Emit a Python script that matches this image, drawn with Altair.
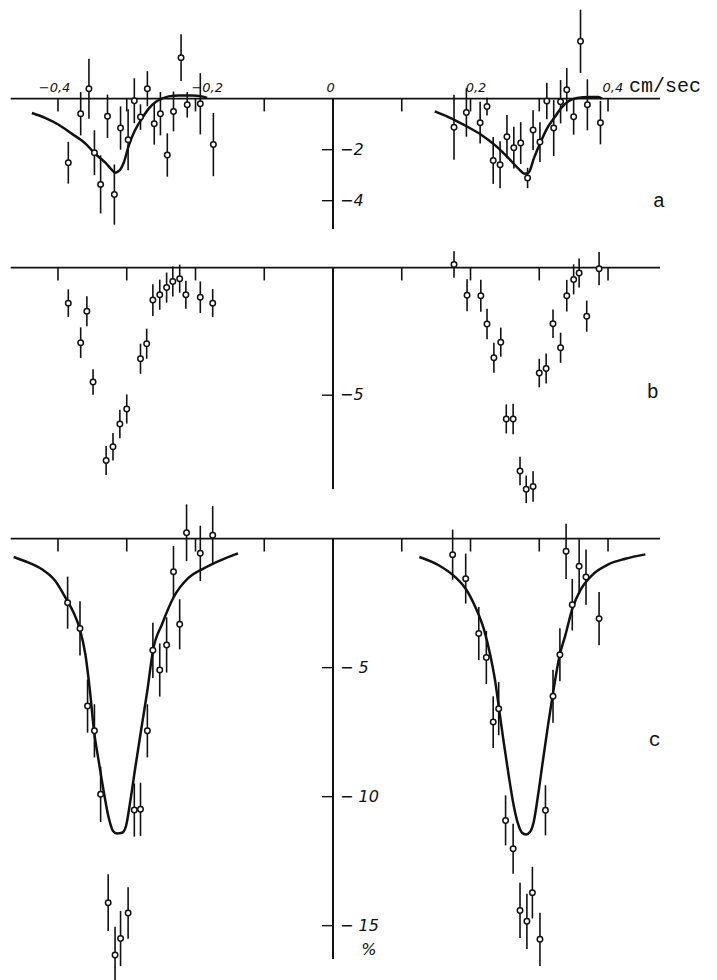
import altair as alt
import pandas as pd

# ---------------- data (cm/sec, %) ----------------
A_L_X = [-0.385, -0.367, -0.355, -0.347, -0.338, -0.328, -0.318, -0.309, -0.298, -0.289,
         -0.280, -0.270, -0.260, -0.251, -0.241, -0.232, -0.221, -0.212, -0.193, -0.174]
A_L_Y = [-2.51, -0.59, 0.39, -2.12, -3.36, -0.69, -3.76, -1.15, -1.61, -0.08,
         -0.72, 0.39, -0.98, -0.59, -2.21, -0.50, 1.61, -0.24, -0.20, -1.80]
A_L_E = [0.82, 0.85, 1.18, 0.88, 1.14, 0.85, 1.18, 0.85, 1.20, 0.88,
         0.50, 0.69, 0.82, 0.85, 0.85, 0.78, 0.92, 0.50, 1.20, 1.24]

A_R_X = [0.176, 0.194, 0.214, 0.224, 0.233, 0.243, 0.253, 0.263, 0.273, 0.283,
         0.291, 0.301, 0.311, 0.321, 0.331, 0.340, 0.350, 0.360, 0.370, 0.389]
A_R_Y = [-1.12, -0.54, -0.94, -0.31, -2.42, -2.59, -1.49, -1.92, -1.74, -3.11,
         -1.23, -1.70, -0.09, -1.15, -0.12, 0.35, -0.71, 2.25, -0.24, -0.94]
A_R_E = [1.27, 0.95, 0.82, 0.35, 0.92, 0.92, 0.85, 0.82, 0.82, 0.40,
         0.78, 0.78, 0.72, 1.10, 0.85, 0.85, 0.70, 1.24, 1.00, 0.85]

B_L_X = [-0.385, -0.367, -0.358, -0.349, -0.330, -0.320, -0.310, -0.300, -0.280,
         -0.271, -0.262, -0.252, -0.242, -0.233, -0.223, -0.214, -0.193, -0.175]
B_L_Y = [-1.39, -2.94, -1.71, -4.48, -7.56, -7.02, -6.13, -5.54, -3.57,
         -2.98, -1.27, -1.06, -0.78, -0.54, -0.43, -1.06, -1.16, -1.39]
B_L_E = [0.54, 0.60, 0.59, 0.50, 0.57, 0.54, 0.56, 0.57, 0.59,
         0.59, 0.62, 0.59, 0.59, 0.59, 0.55, 0.55, 0.62, 0.55]

B_R_X = [0.176, 0.195, 0.215, 0.224, 0.234, 0.244, 0.252, 0.262, 0.272, 0.281,
         0.291, 0.300, 0.310, 0.320, 0.331, 0.340, 0.350, 0.358, 0.369, 0.387]
B_R_Y = [0.12, -1.08, -1.10, -2.21, -3.53, -2.92, -5.93, -5.93, -7.97, -8.69,
         -8.58, -4.13, -3.95, -2.20, -3.14, -1.10, -0.46, -0.21, -1.90, -0.04]
B_R_E = [0.52, 0.63, 0.63, 0.60, 0.59, 0.57, 0.57, 0.60, 0.56, 0.54,
         0.60, 0.56, 0.59, 0.56, 0.59, 0.62, 0.59, 0.57, 0.61, 0.65]

C_L_X = [-0.386, -0.368, -0.357, -0.347, -0.338, -0.327, -0.317, -0.309, -0.298, -0.289,
         -0.280, -0.270, -0.262, -0.252, -0.242, -0.232, -0.223, -0.213, -0.193, -0.175]
C_L_Y = [-2.48, -3.48, -6.49, -7.45, -9.91, -14.11, -16.14, -15.50, -14.51, -10.52,
         -10.49, -7.45, -4.33, -5.09, -4.12, -1.28, -3.32, 0.23, -0.57, 0.13]
C_L_E = [1.01, 1.05, 1.03, 1.03, 1.07, 1.10, 1.10, 1.07, 1.00, 1.03,
         1.03, 1.03, 1.07, 1.03, 1.07, 1.00, 0.97, 1.10, 1.07, 1.13]

C_R_X = [0.174, 0.193, 0.212, 0.223, 0.233, 0.241, 0.251, 0.262, 0.272, 0.282,
         0.290, 0.301, 0.309, 0.320, 0.330, 0.339, 0.348, 0.358, 0.368, 0.387]
C_R_Y = [-0.62, -1.55, -3.68, -4.61, -7.11, -6.59, -10.92, -12.02, -14.41, -14.83,
         -13.72, -15.53, -10.53, -6.11, -4.50, -0.49, -2.56, -1.07, -1.49, -3.10]
C_R_E = [0.97, 0.97, 1.03, 1.03, 1.00, 1.03, 0.97, 0.97, 1.07, 1.07,
         1.00, 1.03, 0.97, 1.03, 1.03, 1.07, 1.00, 1.05, 1.07, 1.03]

# fitted curves
CA_L_X = [-0.438, -0.418, -0.399, -0.380, -0.360, -0.346, -0.331, -0.321, -0.317, -0.312, -0.304,
          -0.297, -0.288, -0.278, -0.268, -0.258, -0.249, -0.239, -0.224, -0.205, -0.191, -0.183]
CA_L_Y = [-0.56, -0.76, -1.02, -1.37, -1.76, -2.16, -2.51, -2.81, -2.90, -2.85, -2.48,
          -1.83, -1.24, -0.78, -0.39, -0.13, 0.0, 0.09, 0.13, 0.13, 0.09, 0.03]
CA_R_X = [0.148, 0.168, 0.192, 0.217, 0.236, 0.256, 0.270, 0.279, 0.285, 0.292,
          0.302, 0.311, 0.321, 0.333, 0.343, 0.355, 0.372, 0.386, 0.391]
CA_R_Y = [-0.50, -0.72, -1.05, -1.44, -1.83, -2.35, -2.75, -2.94, -2.88, -2.35,
          -1.70, -1.18, -0.78, -0.33, -0.09, 0.03, 0.07, 0.07, 0.0]
CC_L_X = [-0.4645, -0.4427, -0.4233, -0.4039, -0.3864, -0.3772, -0.3685, -0.3602, -0.3530,
          -0.3476, -0.3408, -0.3336, -0.3263, -0.3200, -0.3142, -0.3069, -0.3011, -0.2948,
          -0.2876, -0.2778, -0.2701, -0.2618, -0.2487, -0.2322, -0.2099, -0.1905, -0.1663, -0.1382]
CC_L_Y = [-0.71, -0.93, -1.19, -1.64, -2.42, -2.87, -3.48, -4.48, -6.03,
          -7.45, -8.62, -9.78, -10.81, -11.33, -11.43, -11.40, -11.14, -10.17,
          -8.88, -7.20, -5.90, -4.33, -3.32, -2.29, -1.51, -1.19, -0.87, -0.57]
CC_R_X = [0.1256, 0.1537, 0.1779, 0.1935, 0.2070, 0.2192, 0.2288, 0.2361, 0.2415, 0.2482,
          0.2555, 0.2628, 0.2691, 0.2749, 0.2807, 0.2865, 0.2919, 0.2982, 0.3050, 0.3127,
          0.3195, 0.3297, 0.3379, 0.3481, 0.3598, 0.3767, 0.4010, 0.4252, 0.4543]
CC_R_Y = [-0.71, -1.03, -1.49, -1.96, -2.65, -3.49, -4.52, -5.56, -6.59, -7.88,
          -9.17, -10.34, -11.05, -11.40, -11.47, -11.37, -10.98, -9.95, -8.66, -7.24,
          -6.07, -4.52, -3.75, -2.71, -2.00, -1.42, -0.99, -0.78, -0.61]

X_TICKS = [-0.4, -0.3, -0.2, -0.1, 0.1, 0.2, 0.3, 0.4]
X_LABELS = ["−0,4", "−0,2", "0", "0,2", "0,4"]
X_LABEL_POS = [-0.405, -0.183, -0.0036, 0.208, 0.407]

XDOM = [-0.4698, 0.4756]
BLACK = "#111111"
LABEL_FONT = "DejaVu Sans"


def make_panel(height, ydom, pts, curves, vbottom, yticks, ylabels, yfont,
               letter, letter_xy, xlabels=False, extra=None):
    xs = alt.Scale(domain=XDOM, nice=False, zero=False)
    ys = alt.Scale(domain=ydom, nice=False, zero=False)
    X = lambda f: alt.X(f, type="quantitative", scale=xs, axis=None)
    Y = lambda f: alt.Y(f, type="quantitative", scale=ys, axis=None)
    layers = []

    hax = pd.DataFrame({"x": [XDOM[0] + 0.001], "x2": [XDOM[1]], "y": [0.0]})
    layers.append(alt.Chart(hax).mark_rule(color=BLACK, strokeWidth=1.8).encode(
        x=X("x"), x2="x2", y=Y("y")))
    vax = pd.DataFrame({"x": [0.0], "y": [0.0], "y2": [vbottom]})
    layers.append(alt.Chart(vax).mark_rule(color=BLACK, strokeWidth=2.0).encode(
        x=X("x"), y=Y("y"), y2="y2"))
    xt = pd.DataFrame({"x": X_TICKS, "y": [0.0] * len(X_TICKS), "y2": [-0.5] * len(X_TICKS)})
    layers.append(alt.Chart(xt).mark_rule(color=BLACK, strokeWidth=1.6).encode(
        x=X("x"), y=Y("y"), y2="y2"))
    yt = pd.DataFrame({"x": [-0.016] * len(yticks), "x2": [0.0] * len(yticks), "y": yticks,
                       "t": ylabels})
    layers.append(alt.Chart(yt).mark_rule(color=BLACK, strokeWidth=1.4).encode(
        x=X("x"), x2="x2", y=Y("y")))
    layers.append(alt.Chart(yt).mark_text(
        align="left", baseline="middle", dx=7, font=LABEL_FONT, fontStyle="italic",
        fontSize=yfont, color=BLACK).encode(x=X("x2"), y=Y("y"), text="t:N"))

    if curves:
        rows = []
        for i, (cx, cy) in enumerate(curves):
            rows += [{"x": a, "y": b, "seg": i} for a, b in zip(cx, cy)]
        cdf = pd.DataFrame(rows)
        layers.append(alt.Chart(cdf).mark_line(
            color=BLACK, strokeWidth=2.5, interpolate="monotone").encode(
            x=X("x"), y=Y("y"), detail="seg:N", order="x:Q"))

    rows = []
    for px_, py_, pe_ in pts:
        rows += [{"x": a, "y": b, "lo": b - e, "hi": b + e} for a, b, e in zip(px_, py_, pe_)]
    pdf = pd.DataFrame(rows)
    layers.append(alt.Chart(pdf).mark_rule(color=BLACK, strokeWidth=1.6).encode(
        x=X("x"), y=Y("lo"), y2="hi"))
    layers.append(alt.Chart(pdf).mark_circle(
        size=30, fill="white", stroke=BLACK, strokeWidth=1.5, opacity=1).encode(
        x=X("x"), y=Y("y")))

    ldf = pd.DataFrame({"x": [letter_xy[0]], "y": [letter_xy[1]], "t": [letter]})
    layers.append(alt.Chart(ldf).mark_text(
        align="center", baseline="middle", font="Liberation Mono", fontSize=20,
        color=BLACK).encode(x=X("x"), y=Y("y"), text="t:N"))

    if xlabels:
        xl = pd.DataFrame({"x": X_LABEL_POS, "y": [0.28] * len(X_LABEL_POS), "t": X_LABELS})
        layers.append(alt.Chart(xl).mark_text(
            align="center", baseline="alphabetic", font=LABEL_FONT, fontStyle="italic",
            fontSize=13, color=BLACK).encode(x=X("x"), y=Y("y"), text="t:N"))
        ul = pd.DataFrame({"x": [0.4305], "y": [0.26], "t": ["cm/sec"]})
        layers.append(alt.Chart(ul).mark_text(
            align="left", baseline="alphabetic", font="Liberation Mono", fontSize=20,
            color=BLACK).encode(x=X("x"), y=Y("y"), text="t:N"))
    if extra is not None:
        edf = pd.DataFrame({"x": [extra[0]], "y": [extra[1]], "t": [extra[2]]})
        layers.append(alt.Chart(edf).mark_text(
            align="center", baseline="middle", font=LABEL_FONT, fontStyle="italic",
            fontSize=16, color=BLACK).encode(x=X("x"), y=Y("y"), text="t:N"))

    return alt.layer(*layers).properties(width=650, height=height)


pa = make_panel(224, [-5.306, 3.478],
                [(A_L_X, A_L_Y, A_L_E), (A_R_X, A_R_Y, A_R_E)],
                [(CA_L_X, CA_L_Y), (CA_R_X, CA_R_Y)],
                -5.11, [-2, -4], ["−2", "−4"], 16, "a", (0.474, -4.02), xlabels=True)
pb = make_panel(276, [-9.5, 1.32],
                [(B_L_X, B_L_Y, B_L_E), (B_R_X, B_R_Y, B_R_E)],
                [], -8.68, [-5], ["−5"], 16, "b", (0.465, -4.87))
pc = make_panel(467, [-16.99, 1.11],
                [(C_L_X, C_L_Y, C_L_E), (C_R_X, C_R_Y, C_R_E)],
                [(CC_L_X, CC_L_Y), (CC_R_X, CC_R_Y)],
                -16.29, [-5, -10, -15], ["− 5", "− 10", "− 15"], 16, "c", (0.468, -7.80),
                extra=(0.052, -15.94, "%"))

chart = alt.vconcat(pa, pb, pc, spacing=0, bounds="flush", padding=0,
                    background="white").resolve_scale(
    x="independent", y="independent").configure_view(stroke=None)

chart.save("out.html", embed_options={"renderer": "svg", "actions": False})
